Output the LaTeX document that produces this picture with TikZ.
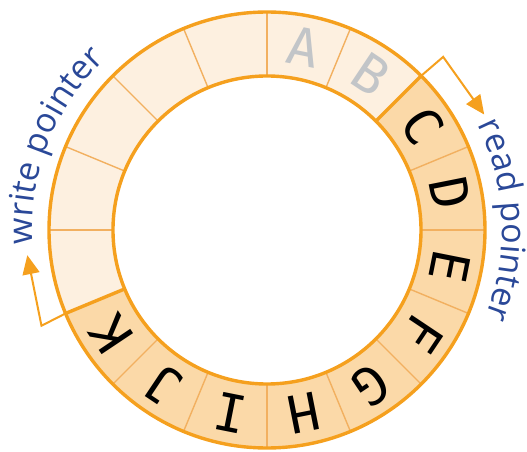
\documentclass[tikz,border=0pt]{standalone}
\usepackage{fontspec}
\newfontfamily\slotfont{DejaVu Sans Mono}
\newfontfamily\ptrfont{Open Sans}
\usepackage{tikz}
\usetikzlibrary{arrows.meta,decorations.text}

\definecolor{ringorange}{HTML}{F5A01E}
\definecolor{thinorange}{HTML}{F2B060}
\definecolor{fullslot}{HTML}{FBD9A8}
\definecolor{freeslot}{HTML}{FDF0E0}
\definecolor{readink}{HTML}{C2C5C8}
\definecolor{ptrblue}{HTML}{2A4898}

\tikzset{
  slotline/.style={thinorange, line width=1.4pt},
  edgeline/.style={ringorange, line width=3.4pt},
  ptrarrow/.style={ringorange, line width=2pt, -{Triangle[length=19pt,width=17pt]}},
  letter/.style={font=\slotfont\fontsize{52}{52}\selectfont, inner sep=0pt},
}

\begin{document}
\begin{tikzpicture}[x=1pt,y=1pt]
            \useasboundingbox (-267,-222) rectangle (260,230);
            % ring
            \fill[freeslot, even odd rule] (0,0) circle (218) (0,0) circle (154);
            \fill[fullslot] (45:218) arc[start angle=45, end angle=-157.5, radius=218]
                -- (-157.5:154) arc[start angle=-157.5, end angle=45, radius=154] -- cycle;
            \foreach \k in {0,...,15}
                \draw[slotline] (\k*22.5:154) -- (\k*22.5:218);
            \draw[edgeline] (45:154) -- (45:218);
            \draw[edgeline] (202.5:154) -- (202.5:218);
            \draw[edgeline] (0,0) circle (218);
            \draw[edgeline] (0,0) circle (154);
            % slots
            \foreach \slotch [count=\k from 0] in {A,B,C,D,E,F,G,H,I,J,K} {
                \pgfmathsetmacro\ang{78.75-22.5*\k}
                \ifnum\k<2 \def\ink{readink}\else\def\ink{black}\fi
                \node[letter, text=\ink, rotate=\ang-90] (slot\slotch) at (\ang:187) {\slotch};
            }
            % pointers
            \coordinate (readfrom) at (45:218);
            \coordinate (readbend) at (44.5:247);
            \coordinate (readtip) at (28:246);
            \draw[ptrarrow] (readfrom) -- (readbend) -- (readtip);
            \coordinate (writefrom) at (202.5:218);
            \coordinate (writebend) at (203:245);
            \coordinate (writetip) at (186:241);
            \draw[ptrarrow] (writefrom) -- (writebend) -- (writetip);
            \path[decorate, decoration={text along path, text align=center, text color=ptrblue,
                text={|\ptrfont\fontsize{34}{34}\selectfont|read pointer}}]
                (40:235) arc[start angle=40, end angle=-35, radius=235];
            \path[decorate, decoration={text along path, text align=center, text color=ptrblue,
                text={|\ptrfont\fontsize{34}{34}\selectfont|write pointer}}]
                (196:235) arc[start angle=196, end angle=121, radius=235];
        \end{tikzpicture}
\end{document}
